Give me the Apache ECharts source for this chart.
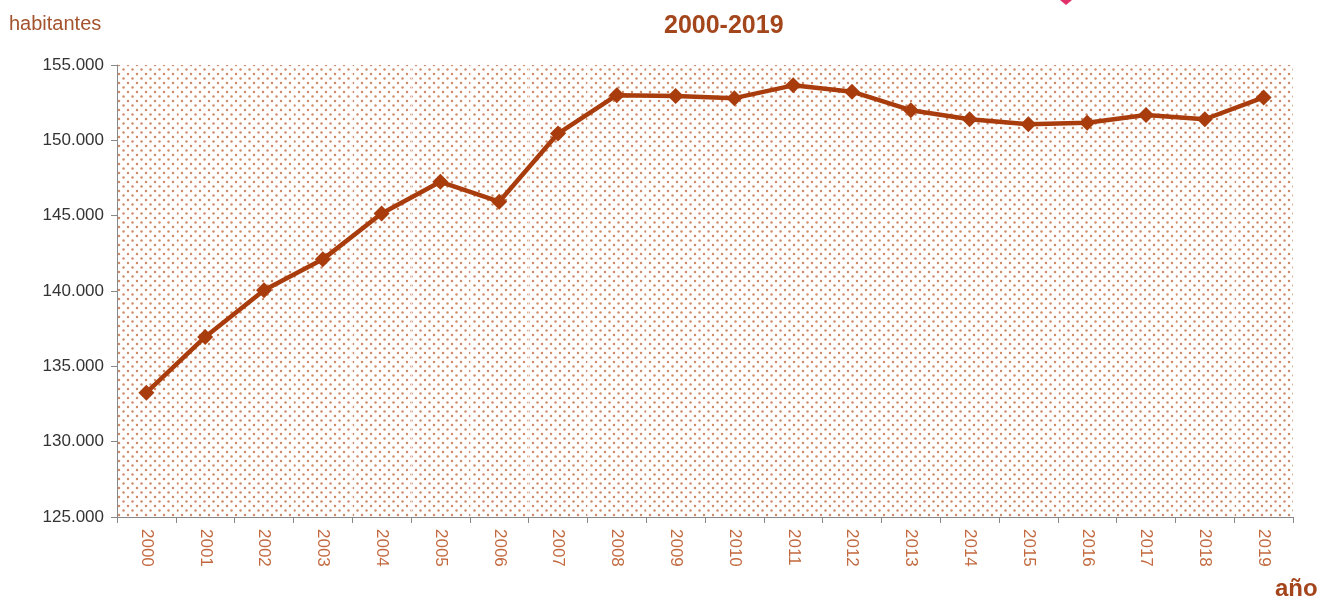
<!DOCTYPE html>
<html><head><meta charset="utf-8">
<script src="https://cdn.jsdelivr.net/npm/echarts@6/dist/echarts.min.js"></script>
<style>html,body{margin:0;padding:0;background:#fff}#c{width:1321px;height:601px}</style>
</head><body><div id="c"></div>
<script>
var years = ['2000','2001','2002','2003','2004','2005','2006','2007','2008','2009','2010','2011','2012','2013','2014','2015','2016','2017','2018','2019'];
var habitantes = [133250, 136950, 140050, 142100, 145150, 147250, 145930, 150450, 153000, 152950, 152800, 153650, 153230, 152000, 151400, 151060, 151170, 151680, 151400, 152850];
var yTicks = [125000, 130000, 135000, 140000, 145000, 150000, 155000];

function dots() {
  var c = document.createElement('canvas');
  c.width = 9; c.height = 9;
  var g = c.getContext('2d');
  g.fillStyle = '#fff'; g.fillRect(0,0,9,9);
  g.fillStyle = '#cf8c6a';
  [[2,2],[6.5,6.5]].forEach(function(p){ g.beginPath(); g.arc(p[0],p[1],1.25,0,Math.PI*2); g.fill(); });
  return c;
}
function fmt(v){ return String(v).replace(/\B(?=(\d{3})+(?!\d))/g,'.'); }

var chart = echarts.init(document.getElementById('c'));
chart.setOption({
  animation: false,
  backgroundColor: '#fff',
  title: { text: '2000-2019', left: 659, top: 9,
    textStyle: { fontFamily: 'Liberation Sans, Arial', fontSize: 25, fontWeight: 'bold', color: '#a4461c' } },
  grid: { left: 117, right: 28, top: 65, bottom: 84, show: true, borderWidth: 0,
    backgroundColor: { image: dots(), repeat: 'repeat' } },
  graphic: [
    { type: 'text', left: 9, top: 14, style: { text: 'habitantes', font: '20px "Liberation Sans", Arial', fill: '#a3532d' } },
    { type: 'text', left: 1275, top: 577, style: { text: 'año', font: 'bold 24px "Liberation Sans", Arial', fill: '#a4461c' } },
    { type: 'polygon', shape: { points: [[1060,0],[1072,0],[1066,5]] }, style: { fill: '#e0306a' } }
  ],
  xAxis: {
    type: 'category', data: years, boundaryGap: true,
    axisLine: { lineStyle: { color: '#888', width: 1 } },
    axisTick: { show: true, length: 6, lineStyle: { color: '#888' } },
    axisLabel: { rotate: -90, margin: 12, fontFamily: 'Liberation Sans, Arial', fontSize: 17, color: '#c2693f' },
    splitLine: { show: true, lineStyle: { color: 'rgba(255,255,255,0.7)', width: 1 } }
  },
  yAxis: {
    type: 'value', min: 125000, max: 155000, interval: 5000,
    axisLine: { show: true, lineStyle: { color: '#888', width: 1 } },
    axisTick: { show: true, length: 6, lineStyle: { color: '#888' } },
    axisLabel: { margin: 13, fontFamily: 'Liberation Sans, Arial', fontSize: 17, color: '#333',
      formatter: function(v){ return yTicks.indexOf(v) >= 0 ? fmt(v) : ''; } },
    splitLine: { show: false }
  },
  series: [{
    type: 'line', data: habitantes,
    symbol: 'diamond', symbolSize: 16,
    lineStyle: { color: '#a83c0c', width: 4.5 },
    itemStyle: { color: '#a83c0c' }
  }]
});
</script></body></html>
